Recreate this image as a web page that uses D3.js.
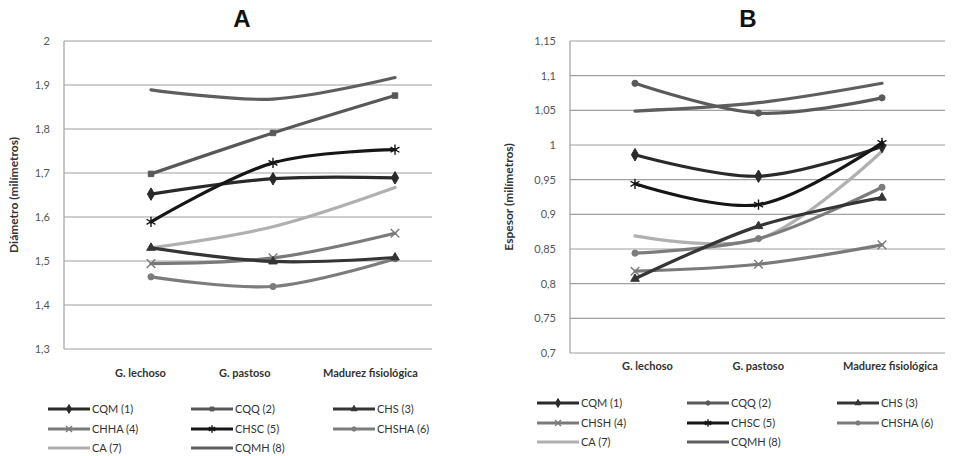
<!DOCTYPE html>
<html><head><meta charset="utf-8">
<script src="https://cdn.jsdelivr.net/npm/d3@7"></script>
<style>body{margin:0;background:#fff}svg{display:block;font-family:Lato,"Open Sans",sans-serif}</style>
</head><body><svg id="c" width="965" height="456"></svg>
<script>
const categories = ["G. lechoso", "G. pastoso", "Madurez fisiológica"];
const seriesNamesA = ["CQM (1)", "CQQ (2)", "CHS (3)", "CHHA (4)", "CHSC (5)", "CHSHA (6)", "CA (7)", "CQMH (8)"];
const seriesNamesB = ["CQM (1)", "CQQ (2)", "CHS (3)", "CHSH (4)", "CHSC (5)", "CHSHA (6)", "CA (7)", "CQMH (8)"];
// Panel A: Diámetro (milímetros)
const cqmA   = [1.652, 1.687, 1.689];
const cqqA   = [1.698, 1.791, 1.876];
const chsA   = [1.530, 1.499, 1.508];
const chhaA  = [1.494, 1.507, 1.563];
const chscA  = [1.589, 1.723, 1.753];
const chshaA = [1.464, 1.442, 1.505];
const caA    = [1.530, 1.578, 1.667];
const cqmhA  = [1.889, 1.868, 1.917];
// Panel B: Espesor (milímetros)
const cqmB   = [0.986, 0.955, 0.998];
const cqqB   = [1.089, 1.046, 1.068];
const chsB   = [0.807, 0.883, 0.924];
const chshB  = [0.818, 0.828, 0.856];
const chscB  = [0.944, 0.914, 1.003];
const chshaB = [0.844, 0.865, 0.939];
const caB    = [0.869, 0.864, 0.991];
const cqmhB  = [1.049, 1.061, 1.089];
const ticksA = [1.3, 1.4, 1.5, 1.6, 1.7, 1.8, 1.9, 2];
const ticksB = [0.7, 0.75, 0.8, 0.85, 0.9, 0.95, 1, 1.05, 1.1, 1.15];

const styles = [
  {color:"#2a2a2a", marker:"diamond"},
  {color:"#585858", marker:"square"},
  {color:"#353535", marker:"triangle"},
  {color:"#7a7a7a", marker:"x"},
  {color:"#161616", marker:"asterisk"},
  {color:"#7c7c7c", marker:"circle"},
  {color:"#b0b0b0", marker:null},
  {color:"#5e5e5e", marker:null}
];
const stylesB = styles.map((s,i)=> i===1 ? {color:"#5a5a5a", marker:"circle"} : s);

const fmt = v => String(v).replace(".", ",");
const svg = d3.select("#c");

function marker(g, type, x, y, color, k) {
  if (!type) return;
  k = k || 1;
  const m = {diamond:[d3.symbolDiamond,45,true], square:[d3.symbolSquare,30,true], triangle:[d3.symbolTriangle,32,true],
    circle:[d3.symbolCircle,30,true], x:[d3.symbolTimes,50,false], asterisk:[d3.symbolAsterisk,75,false]}[type];
  g.append("path").attr("transform",`translate(${x},${y})`)
    .attr("d", d3.symbol(m[0], m[1]*k)())
    .attr("fill", m[2] ? color : "none").attr("stroke", color).attr("stroke-width", m[2] ? 1 : 1.4);
}

function panel(cfg) {
  const g = svg.append("g");
  const y = d3.scaleLinear().domain(cfg.domain).range([cfg.bottom, cfg.top]);
  const x = d3.scalePoint().domain(categories).range(cfg.pointRange);
  const xl = d3.scalePoint().domain(categories).range(cfg.labelRange);
  g.append("g").selectAll("line").data(cfg.ticks).join("line")
    .attr("x1", cfg.left).attr("x2", cfg.right)
    .attr("y1", d=>y(d)).attr("y2", d=>y(d))
    .attr("stroke", "#a0a0a0").attr("stroke-width", 1.2);
  g.append("line").attr("x1",cfg.left).attr("x2",cfg.left).attr("y1",cfg.top).attr("y2",cfg.bottom)
    .attr("stroke","#a0a0a0").attr("stroke-width",1.2);
  g.append("g").selectAll("text").data(cfg.ticks).join("text")
    .attr("x", cfg.left - 14).attr("y", d=>y(d)+4).attr("text-anchor","end")
    .attr("font-size", 11).attr("fill","#555").text(fmt);
  g.append("g").selectAll("text").data(categories).join("text")
    .attr("x", d=>xl(d)).attr("y", cfg.labelY).attr("text-anchor","start")
    .attr("font-size", 11).attr("font-weight","bold").attr("fill","#333").text(d=>d);
  g.append("text").attr("x", cfg.titleX).attr("y", 27).attr("text-anchor","middle")
    .attr("font-family","'Liberation Sans',Arial,sans-serif")
    .attr("font-size", 24).attr("font-weight","bold").attr("fill","#111").text(cfg.title);
  g.append("text").attr("transform", `translate(${cfg.ytX},${(cfg.top+cfg.bottom)/2}) rotate(-90)`)
    .attr("text-anchor","middle").attr("font-size", 12).attr("font-weight","bold").attr("fill","#333").text(cfg.yTitle);
  const line = d3.line().x((d,i)=>x(categories[i])).y(d=>y(d)).curve(d3.curveCatmullRom.alpha(0.5));
  const order = [6,7,1,5,3,2,0,4];
  order.forEach(si => {
    const s = cfg.styles[si];
    g.append("path").attr("d", line(cfg.series[si])).attr("fill","none")
      .attr("stroke", s.color).attr("stroke-width", 3.2).attr("stroke-linejoin","round").attr("stroke-linecap","round");
    cfg.series[si].forEach((v,i)=> marker(g, s.marker, x(categories[i]), y(v), s.color));
  });
  const lg = g.append("g");
  cfg.names.forEach((n, i) => {
    const col = i % 3, row = Math.floor(i/3);
    const lx = cfg.legX[col], ly = cfg.legY[row];
    const s = cfg.styles[i];
    lg.append("line").attr("x1", lx).attr("x2", lx+42).attr("y1", ly).attr("y2", ly)
      .attr("stroke", s.color).attr("stroke-width", 3.2);
    marker(lg, s.marker, lx+21, ly, s.color, 0.5);
    lg.append("text").attr("x", lx+44).attr("y", ly+4).attr("font-size", 11).attr("fill","#333").text(n);
  });
}

panel({title:"A", titleX:242, domain:[1.3,2], ticks:ticksA, top:41, bottom:349, left:64, right:432,
  pointRange:[151,395], labelRange:[115,323], labelY:377, ytX:18, yTitle:"Diámetro (milímetros)",
  series:[cqmA,cqqA,chsA,chhaA,chscA,chshaA,caA,cqmhA], names:seriesNamesA, styles:styles,
  legX:[48,191,333], legY:[409,429,448]});
panel({title:"B", titleX:748, domain:[0.7,1.15], ticks:ticksB, top:41, bottom:353, left:570, right:945,
  pointRange:[635,882], labelRange:[622,843], labelY:370, ytX:513, yTitle:"Espesor (milímetros)",
  series:[cqmB,cqqB,chsB,chshB,chscB,chshaB,caB,cqmhB], names:seriesNamesB, styles:stylesB,
  legX:[537,687,837], legY:[403,423,442]});
</script></body></html>
